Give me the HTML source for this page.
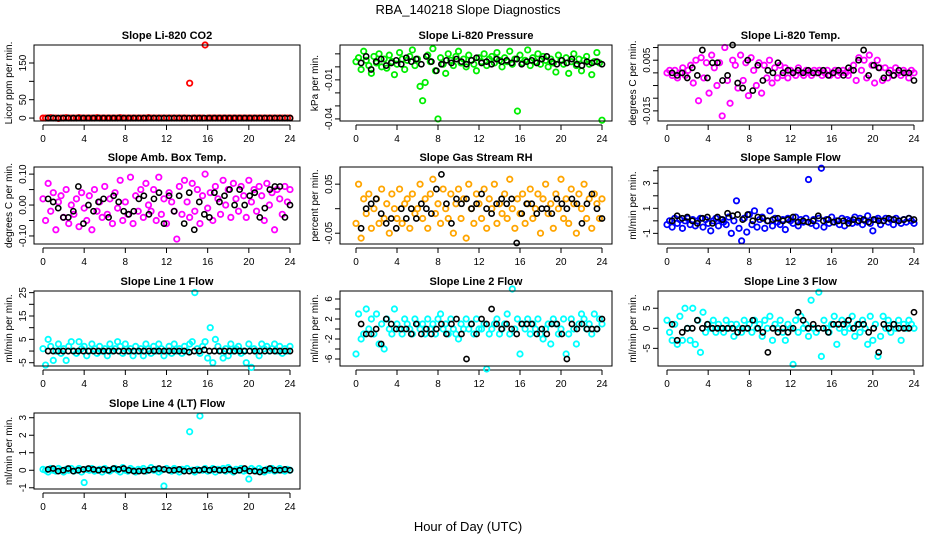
<!DOCTYPE html>
<html><head><meta charset="utf-8">
<style>
html,body{margin:0;padding:0;background:#fff;}
svg{display:block;font-family:"Liberation Sans",sans-serif;}
</style></head>
<body>
<svg id="chart" width="936" height="540" viewBox="0 0 936 540" xmlns="http://www.w3.org/2000/svg">
<rect width="936" height="540" fill="#fff"/>
<text x="468" y="14" font-size="13" text-anchor="middle">RBA_140218  Slope Diagnostics</text>
<text x="468" y="531" font-size="13" text-anchor="middle">Hour of Day (UTC)</text>
</svg>
<script>
const hourTicks = [0,4,8,12,16,20,24];

const titles = ["Slope Li-820 CO2","Slope Li-820 Pressure","Slope Li-820 Temp.","Slope Amb. Box Temp.","Slope Gas Stream RH","Slope Sample Flow","Slope Line 1 Flow","Slope Line 2 Flow","Slope Line 3 Flow","Slope Line 4 (LT) Flow"];
const yTitles = ["Licor ppm per min.","kPa per min.","degrees C per min.","degrees C per min.","percent per min.","ml/min per min.","ml/min per min.","ml/min per min.","ml/min per min.","ml/min per min."];
const colors = ["#ff0000","#00ee00","#ff00ff","#ff00ff","#ffa500","#0000ff","#00ffff","#00ffff","#00ffff","#00ffff"];
const yLims = [[-8,199],[-0.0416,0.0168],[-0.019,0.011],[-0.126,0.123],[-0.072,0.085],[-1.85,4.3],[-6.4,25.7],[-7.4,7.6],[-9.4,9.3],[-1.07,3.27]];
const yTickVals = [[0,50,100,150],[-0.04,-0.03,-0.02,-0.01,0,0.01],[-0.015,-0.01,-0.005,0,0.005,0.01],[-0.1,-0.05,0,0.05,0.1],[-0.05,0,0.05],[-1,0,1,2,3,4],[-5,0,5,10,15,20,25],[-6,-4,-2,0,2,4,6],[-5,0,5],[-1,0,1,2,3]];
const yTickLabels = [["0","50","","150"],["-0.04","","","-0.01","",""],["-0.015","","","","0.005",""],["-0.10","","0.00","","0.10"],["-0.05","","0.05"],["-1","","1","","3",""],["-5","","5","","15","","25"],["-6","","-2","","2","","6"],["-5","0","5"],["-1","0","1","2","3"]];

const co2Color = [0,0,0,1,0,0,-1,0,0,1,0,0,0,0,1,0,0,0,0,0,0,1,0,0,0,0,0,0,0,0,1,0,0,0,0,0,0,0,0,0,0,1,0,0,0,0,0,0,0,0,0,0,0,0,0,0,0,95,0,0,0,0,0,199,0,0,0,0,0,0,0,0,0,0,0,0,0,0,0,0,0,0,0,0,0,0,0,0,0,0,0,0,0,0,0,0,0];
const co2Black = [0,0,0,0,0,0,0,0,0,0,0,0,0,0,0,0,0,0,0,0,0,0,0,0,0,0,0,0,0,0,0,0,0,0,0,0,0,0,0,0,0,0,0,0,0,0,0,0,0];
const presColor = [0.004,0.007,-0.002,0.012,0.005,0.001,-0.005,0.008,0.003,0.010,0.000,0.006,-0.001,0.009,0.004,-0.006,0.002,0.011,0.006,-0.002,0.005,0.008,0.013,0.001,0.006,-0.015,-0.026,-0.012,0.009,0.004,0.014,-0.003,-0.040,0.007,0.002,-0.005,0.010,0.005,0.001,0.008,0.012,0.003,0.006,0.000,0.009,0.005,0.002,-0.003,0.007,0.004,0.010,0.001,0.006,0.008,0.003,0.011,0.005,0.000,0.007,0.004,0.012,0.002,0.006,-0.034,0.009,0.003,0.005,0.013,0.001,0.007,0.004,0.010,0.002,0.008,0.005,0.000,0.006,0.003,-0.004,0.009,0.005,0.002,0.007,-0.005,0.004,0.010,0.001,0.006,-0.003,0.005,0.008,0.002,-0.006,0.004,0.011,0.003,-0.041];
const presBlack = [0.003,0.008,-0.002,0.004,0.006,0.001,0.003,0.005,0.002,0.007,0.004,0.006,0.002,0.008,0.004,-0.003,0.002,0.005,0.003,0.006,0.004,0.002,0.005,0.007,0.003,0.004,0.002,0.006,0.004,0.005,0.003,0.006,0.002,0.004,0.005,0.003,0.006,0.008,0.004,0.002,0.005,0.003,0.006,0.002,0.001,0.004,0.003,0.004,0.002];
const tempColor = [0.000,0.001,-0.001,0.001,-0.002,0.000,0.002,-0.001,0.001,0.003,-0.004,0.005,-0.011,0.006,-0.002,0.004,-0.008,0.007,0.002,-0.005,0.004,-0.017,0.010,-0.003,-0.012,0.005,0.003,-0.006,0.007,-0.003,0.004,-0.009,0.006,0.001,-0.005,0.004,-0.008,0.003,-0.002,0.005,-0.004,0.002,-0.002,0.003,-0.001,0.002,-0.002,0.001,0.000,-0.001,0.002,0.000,-0.001,0.001,0.000,-0.001,0.001,0.000,0.001,-0.001,0.000,0.001,-0.001,0.000,0.001,-0.001,0.000,0.001,0.000,-0.001,0.001,0.003,-0.003,0.006,0.001,0.005,-0.002,0.007,0.003,-0.004,0.005,0.002,-0.003,0.002,-0.002,0.001,-0.001,0.002,0.000,-0.001,0.001,0.000,-0.002,0.001,0.000];
const tempBlack = [0.000,-0.001,0.000,-0.002,0.002,-0.001,0.009,-0.002,0.004,0.004,-0.003,-0.001,0.011,-0.004,-0.006,0.005,-0.007,0.003,-0.003,0.001,0.000,0.004,0.000,0.001,0.000,0.001,0.000,0.001,0.000,0.000,0.001,-0.001,0.000,0.001,-0.001,0.002,0.001,0.005,0.009,-0.001,0.003,0.002,-0.002,0.000,-0.001,0.001,0.000,0.000,-0.003];
const ambColor = [0.02,-0.05,0.07,-0.02,0.04,-0.08,0.01,0.03,-0.04,0.05,-0.06,0.00,-0.03,0.02,-0.07,0.04,-0.01,-0.05,0.03,-0.08,0.05,-0.02,0.01,-0.04,0.06,-0.03,0.02,-0.06,0.04,-0.01,0.08,-0.05,0.01,-0.03,0.09,-0.06,0.03,-0.02,0.05,-0.04,0.07,0.00,-0.02,0.05,-0.05,0.09,-0.03,0.02,-0.06,0.04,0.01,-0.02,-0.11,0.06,-0.03,0.08,0.01,-0.04,0.07,-0.02,0.05,-0.06,0.03,0.10,-0.01,0.04,-0.05,0.06,0.02,-0.03,0.08,0.00,0.05,-0.04,0.07,0.02,-0.02,0.06,0.03,-0.04,0.08,0.01,0.05,-0.02,0.06,0.03,-0.05,0.07,0.00,0.04,-0.08,0.05,0.02,-0.03,0.06,0.01,0.05];
const ambBlack = [0.02,0.01,-0.01,-0.04,-0.04,-0.02,0.06,-0.06,0.00,-0.02,0.01,0.02,-0.04,0.03,0.01,-0.02,-0.03,-0.02,0.02,0.03,-0.03,0.02,0.04,-0.06,0.03,-0.02,0.03,-0.06,0.04,-0.08,0.01,-0.03,-0.04,0.04,0.01,0.03,0.05,0.00,0.05,0.00,0.03,0.04,-0.04,-0.01,0.05,0.06,0.06,-0.04,0.00];
const rhColor = [-0.03,0.05,-0.06,0.02,-0.01,0.03,-0.04,0.00,0.02,-0.03,0.04,-0.02,0.01,-0.05,0.03,0.00,-0.02,0.04,-0.03,0.01,0.02,-0.04,0.03,-0.01,0.00,0.05,-0.02,0.02,-0.04,0.03,0.06,-0.01,0.01,-0.03,0.04,0.00,-0.02,0.03,-0.05,0.01,0.04,-0.02,0.02,-0.06,0.05,0.00,-0.03,0.03,0.01,-0.02,0.04,-0.04,0.02,0.00,0.05,-0.03,0.01,-0.01,0.03,-0.02,0.06,0.00,-0.04,0.02,-0.01,0.03,-0.03,0.01,0.04,-0.02,0.00,0.03,-0.05,0.02,0.05,-0.01,0.01,-0.04,0.03,0.00,0.06,-0.02,0.02,-0.03,0.04,0.01,-0.05,0.03,0.00,0.05,-0.02,0.02,-0.04,0.03,0.01,-0.02,0.02];
const rhBlack = [-0.04,0.00,0.01,0.02,-0.01,-0.03,-0.02,-0.04,0.00,-0.02,0.00,-0.02,0.01,0.00,-0.01,0.04,0.07,0.01,-0.03,0.02,0.01,0.02,0.00,0.01,0.03,0.00,-0.01,0.01,0.02,0.01,0.02,-0.07,-0.01,0.01,0.01,-0.01,0.00,0.00,-0.01,0.02,0.01,0.00,0.02,0.01,-0.03,0.01,0.03,0.00,-0.02];
const flowColor = [-0.3,0.0,-0.5,0.2,-0.2,0.1,-0.6,0.0,0.2,-0.3,0.1,-0.4,0.0,0.2,-0.5,0.1,-0.2,-0.8,0.0,0.2,-0.4,0.1,-0.1,-0.3,0.3,-1.0,0.0,1.6,-0.6,-1.6,0.2,-0.9,0.5,-0.3,0.8,-0.5,0.1,0.3,-0.6,0.0,0.8,-0.4,0.2,-0.1,-0.3,0.1,-0.7,0.2,0.0,-0.2,0.3,-0.4,0.1,-0.1,0.2,3.3,-0.2,0.1,-0.4,0.2,4.2,-0.5,0.1,-0.2,0.3,-0.1,0.0,-0.3,0.2,-0.4,0.1,0.0,-0.2,0.3,-0.1,0.2,-0.3,0.0,0.4,-0.2,-0.8,0.1,0.2,-0.3,0.0,0.2,-0.1,0.1,-0.3,0.2,0.0,-0.2,0.1,-0.1,0.2,0.0,-0.2];
const flowBlack = [0.0,0.4,0.2,0.3,0.0,-0.2,0.2,0.3,-0.2,0.3,0.1,0.6,0.4,0.5,0.1,0.5,0.0,0.3,0.2,0.0,0.1,0.2,0.0,0.1,0.3,-0.1,0.0,-0.1,0.0,0.4,0.0,0.1,-0.1,0.0,0.0,-0.2,0.1,0.0,0.1,-0.1,0.1,0.0,0.0,0.2,0.1,0.0,0.1,0.2,0.1];
const line1Color = [1,-6,5,2,-4,0,3,-1,1,-4,2,4,0,-1,4,1,2,-2,0,3,1,-1,2,0,1,-2,3,0,1,4,2,-1,3,0,1,-2,2,0,1,-2,3,1,-1,2,0,3,1,-2,0,2,-1,3,0,1,-1,2,0,3,4,25,1,-1,2,4,-3,10,-5,5,2,0,-3,1,-2,3,0,1,2,-1,0,-5,3,-7,1,0,-2,3,1,2,0,1,3,0,2,-1,1,0,2];
const line1Black = [0,0,0,0,0,0,0,0,0,0,0,0,0,0,0,0,0,0,0,0,0,0,0,0,0,0,0,0,-0.5,0,0,0.5,0,0,0,0,0,0,0,0,0,0,0,0,0,0,0,0,0];
const line2Color = [-5,3,-2,-1,4,0,2,-1,3,-3,1,-4,2,0,-1,4,1,0,-1,2,1,0,-1,2,1,0,1,-1,2,0,1,-1,2,3,0,1,-1,2,0,-1,-2,1,0,2,0,1,-1,2,0,0,1,-8,-1,0,1,2,-1,0,1,3,-1,8,0,2,-5,1,0,2,-1,1,0,2,-1,-2,0,1,-3,2,1,-1,0,2,-5,-1,2,0,-3,1,3,2,0,1,-1,3,0,2,1];
const line2Black = [1,-1,-1,0,-3,2,1,0,0,0,-1,1,-1,0,-1,0,1,-1,1,2,-1,-6,1,-1,2,1,4,1,0,1,0,-1,1,1,1,-1,0,-1,1,1,-1,-6,1,0,1,0,0,0,2];
const line3Color = [2,-1,-3,1,-4,3,-3,5,0,-3,5,-4,2,-6,4,-1,1,0,2,-1,1,0,-1,2,0,1,-2,1,0,-1,2,0,1,-1,2,0,1,-2,2,0,3,-3,1,0,2,-1,-3,1,0,-9,2,-1,3,0,1,-2,7,0,-1,9,-7,2,0,-1,1,3,-4,0,2,-1,1,0,3,-2,1,-1,2,0,-4,3,-3,1,-7,-2,3,0,2,-1,1,0,2,-3,1,0,2,1,0];
const line3Black = [1,-3,-1,0,0,2,0,1,0,0,0,0,0,-1,0,0,2,0,-1,-6,0,-1,0,-1,0,4,2,0,1,0,0,-1,1,1,1,2,0,1,1,-1,0,-6,1,0,1,0,0,0,4];
const ltColor = [0.05,0.0,-0.1,0.1,0.0,-0.05,0.1,0.0,-0.1,0.05,0.0,0.1,-0.05,0.0,0.1,-0.1,-0.7,0.05,0.0,0.1,-0.05,0.0,0.05,-0.1,0.1,0.0,-0.05,0.05,0.1,0.0,-0.1,0.15,0.0,-0.05,0.1,0.0,-0.1,0.05,0.0,0.1,-0.05,0.0,0.15,0.0,0.05,-0.1,0.0,-0.9,0.1,0.0,-0.05,0.1,0.0,-0.1,0.05,0.0,0.1,2.2,0.0,-0.1,0.05,3.1,0.0,0.1,-0.05,0.0,0.1,-0.1,0.05,0.0,0.1,-0.05,0.15,0.0,-0.1,0.05,0.0,0.1,-0.05,0.0,-0.5,0.1,0.0,-0.05,0.1,0.0,-0.1,0.05,0.0,0.1,-0.05,0.0,0.1,0.0,-0.05,0.05,0.0];
const ltBlack = [0.05,0.1,-0.05,0.0,0.1,-0.05,0.0,0.05,0.1,0.05,0.0,0.05,0.0,0.1,0.05,0.1,0.0,-0.05,-0.05,-0.05,0.0,0.05,0.1,0.05,0.0,0.0,0.05,-0.05,-0.05,0.0,0.0,0.05,0.0,0.05,0.0,0.0,0.05,-0.05,0.0,0.1,-0.05,-0.05,-0.1,0.0,0.1,0.0,0.0,0.05,0.0];

const colorSeries = [co2Color,presColor,tempColor,ambColor,rhColor,flowColor,line1Color,line2Color,line3Color,ltColor];
const blackSeries = [co2Black,presBlack,tempBlack,ambBlack,rhBlack,flowBlack,line1Black,line2Black,line3Black,ltBlack];

const NS = "http://www.w3.org/2000/svg";
const svg = document.getElementById("chart");
const cols = [{bx0:34,bx1:300,h0:43,h24:290},{bx0:340,bx1:612,h0:356,h24:602},{bx0:658,bx1:923,h0:667,h24:914}];
const rows = [{by0:45,by1:121},{by0:167,by1:244},{by0:291,by1:366},{by0:413,by1:489}];
function mk(tag, attrs, parent){const e=document.createElementNS(NS,tag);for(const k in attrs)e.setAttribute(k,attrs[k]);(parent||svg).appendChild(e);return e;}
const slug = s => s.toLowerCase().replace(/[^a-z0-9]+/g,'-').replace(/^-|-$/g,'');

titles.forEach((title, p) => {
  const c = cols[p%3], r = rows[Math.floor(p/3)];
  const xs = h => c.h0 + (h/24)*(c.h24-c.h0);
  const [lo,hi] = yLims[p];
  const ys = v => r.by1 - (v-lo)/(hi-lo)*(r.by1-r.by0);
  const g = mk('g',{});
  
  
  const t = mk('text',{x:(c.bx0+c.bx1)/2,y:r.by0-6,'font-size':11,'font-weight':'bold','text-anchor':'middle'},g);
  t.textContent = title;
  
  
  const yt = mk('text',{x:0,y:0,'font-size':10,'text-anchor':'middle',transform:`translate(${c.bx0-22},${(r.by0+r.by1)/2}) rotate(-90)`},g);
  yt.textContent = yTitles[p];
  
  
  // x axis
  const xa = mk('line',{x1:xs(0),x2:xs(24),y1:r.by1+4,y2:r.by1+4,stroke:'#000','stroke-width':1},g);
  
  
  hourTicks.forEach(h => {
    const tk = mk('line',{x1:xs(h),x2:xs(h),y1:r.by1+4,y2:r.by1+9,stroke:'#000'},g);
    
    
    const tl = mk('text',{x:xs(h),y:r.by1+21,'font-size':10,'text-anchor':'middle'},g);
    tl.textContent = String(h);
    
    
  });
  // y axis
  const tv = yTickVals[p];
  tv.forEach((v,i) => {
    const tk = mk('line',{x1:c.bx0,x2:c.bx0-5,y1:ys(v),y2:ys(v),stroke:'#000'},g);
    
    
    if (yTickLabels[p][i]) {
      const tl = mk('text',{x:0,y:0,'font-size':10,'text-anchor':'middle',transform:`translate(${c.bx0-8},${ys(v)}) rotate(-90)`},g);
      tl.textContent = yTickLabels[p][i];
      
      
    }
  });
  // points
  const cs = colorSeries[p];
  cs.forEach((v,i) => {
    const pt = mk('circle',{cx:xs(i*24/(cs.length-1)),cy:ys(v),r:2.7,fill:'none',stroke:colors[p],'stroke-width':1.8},g);
    
    
  });
  const bs = blackSeries[p];
  bs.forEach((v,i) => {
    const pt = mk('circle',{cx:xs(0.5+i*23.5/(bs.length-1)),cy:ys(v),r:2.6,fill:'none',stroke:'#000','stroke-width':1.6},g);
    
    
  });
  const box = mk('rect',{x:c.bx0,y:r.by0,width:c.bx1-c.bx0,height:r.by1-r.by0,fill:'none',stroke:'#000','stroke-width':1},g);
  
  
});
</script>
</body></html>
